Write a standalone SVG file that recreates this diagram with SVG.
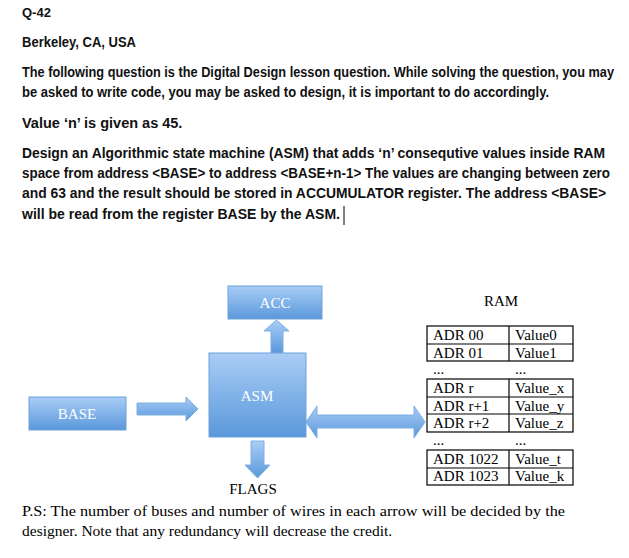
<svg xmlns="http://www.w3.org/2000/svg" width="629" height="558" viewBox="0 0 629 558">
<defs>
<linearGradient id="g" x1="0" y1="0" x2="0" y2="1"><stop offset="0" stop-color="#a9cdf6"/><stop offset="1" stop-color="#5a98db"/></linearGradient>
</defs>
<style>
.t{font-family:"Liberation Sans",Arial,sans-serif;font-weight:bold;font-size:14px;fill:#111}
.s{font-family:"Liberation Serif","Times New Roman",serif;font-size:15.5px;fill:#000}
.b{fill:url(#g);stroke:#6fa2da;stroke-width:1}
.a{fill:url(#g);stroke:#7eaee0;stroke-width:1}
.w{font-family:"Liberation Serif",serif;font-size:15px;fill:#fff;text-anchor:middle}
.c{font-family:"Liberation Serif",serif;font-size:15px;fill:#000}
.tb{fill:none;stroke:#000;stroke-width:1.2}
</style>
<rect width="629" height="558" fill="#fff"/>
<text class="t" x="22" y="17" style="font-size:13px">Q-42</text>
<text class="t" x="22" y="47" textLength="114" lengthAdjust="spacingAndGlyphs">Berkeley, CA, USA</text>
<text class="t" x="22" y="77" textLength="592" lengthAdjust="spacingAndGlyphs">The following question is the Digital Design lesson question. While solving the question, you may</text>
<text class="t" x="22" y="97" textLength="527" lengthAdjust="spacingAndGlyphs">be asked to write code, you may be asked to design, it is important to do accordingly.</text>
<text class="t" x="22" y="128" style="font-size:14.5px">Value ‘n’ is given as 45.</text>
<text class="t" x="22" y="158" textLength="583" lengthAdjust="spacingAndGlyphs">Design an Algorithmic state machine (ASM) that adds ‘n’ consequtive values inside RAM</text>
<text class="t" x="22" y="178" textLength="588" lengthAdjust="spacingAndGlyphs">space from address &lt;BASE&gt; to address &lt;BASE+n-1&gt; The values are changing between zero</text>
<text class="t" x="22" y="198" textLength="584" lengthAdjust="spacingAndGlyphs">and 63 and the result should be stored in ACCUMULATOR register. The address &lt;BASE&gt;</text>
<text class="t" x="22" y="219" textLength="318" lengthAdjust="spacingAndGlyphs">will be read from the register BASE by the ASM.</text>
<line x1="344" y1="206" x2="344" y2="225" stroke="#000" stroke-width="1"/>

<g id="connectors">
<polygon class="a" points="137,403 186,403 186,397 198,409 186,421 186,415 137,415"/>
<polygon class="a" points="271,353 271,331 264,331 276.5,320 289,331 283,331 283,353"/>
<polygon class="a" points="251,441 264,441 264,465 270,465 257.5,478 245,465 251,465"/>
<polygon class="a" points="306,422 317,406 317,415 414,415 414,406 425,422 414,438 414,428 317,428 317,438"/>
</g>
<g id="acc"><rect class="b" x="228" y="286" width="94" height="33"/><text class="w" x="275" y="308">ACC</text></g>
<g id="asm"><rect class="b" x="209" y="353" width="97" height="84"/><text class="w" x="257" y="401">ASM</text></g>
<g id="base"><rect class="b" x="29" y="397" width="97" height="33"/><text class="w" x="77" y="419">BASE</text></g>
<g id="flags"><text x="253" y="494" text-anchor="middle" style="font-family:'Liberation Serif',serif;font-size:15px">FLAGS</text></g>
<g id="ram">
<text x="501" y="306" text-anchor="middle" style="font-family:'Liberation Serif',serif;font-size:15px">RAM</text>
<rect class="tb" x="427" y="326" width="146" height="35"/><line class="tb" x1="427" y1="344" x2="573" y2="344"/><line class="tb" x1="509" y1="326" x2="509" y2="361"/>
<text class="c" x="433" y="340">ADR 00</text><text class="c" x="515" y="340">Value0</text>
<text class="c" x="433" y="358">ADR 01</text><text class="c" x="515" y="358">Value1</text>
<text class="c" x="433" y="374">...</text><text class="c" x="515" y="374">...</text>
<rect class="tb" x="427" y="379" width="146" height="53"/><line class="tb" x1="427" y1="397" x2="573" y2="397"/><line class="tb" x1="427" y1="414" x2="573" y2="414"/><line class="tb" x1="509" y1="379" x2="509" y2="432"/>
<text class="c" x="433" y="393">ADR r</text><text class="c" x="515" y="393">Value_x</text>
<text class="c" x="433" y="411">ADR r+1</text><text class="c" x="515" y="411">Value_y</text>
<text class="c" x="433" y="428">ADR r+2</text><text class="c" x="515" y="428">Value_z</text>
<text class="c" x="433" y="445">...</text><text class="c" x="515" y="445">...</text>
<rect class="tb" x="427" y="450" width="146" height="35"/><line class="tb" x1="427" y1="468" x2="573" y2="468"/><line class="tb" x1="509" y1="450" x2="509" y2="485"/>
<text class="c" x="433" y="464">ADR 1022</text><text class="c" x="515" y="464">Value_t</text>
<text class="c" x="433" y="481">ADR 1023</text><text class="c" x="515" y="481">Value_k</text>
</g>
<text class="s" x="22" y="516" textLength="543" lengthAdjust="spacingAndGlyphs">P.S: The number of buses and number of wires  in each arrow will be decided by the</text>
<text class="s" x="22" y="536" style="font-size:15.5px">designer. Note that any redundancy will decrease the credit.</text>
</svg>
